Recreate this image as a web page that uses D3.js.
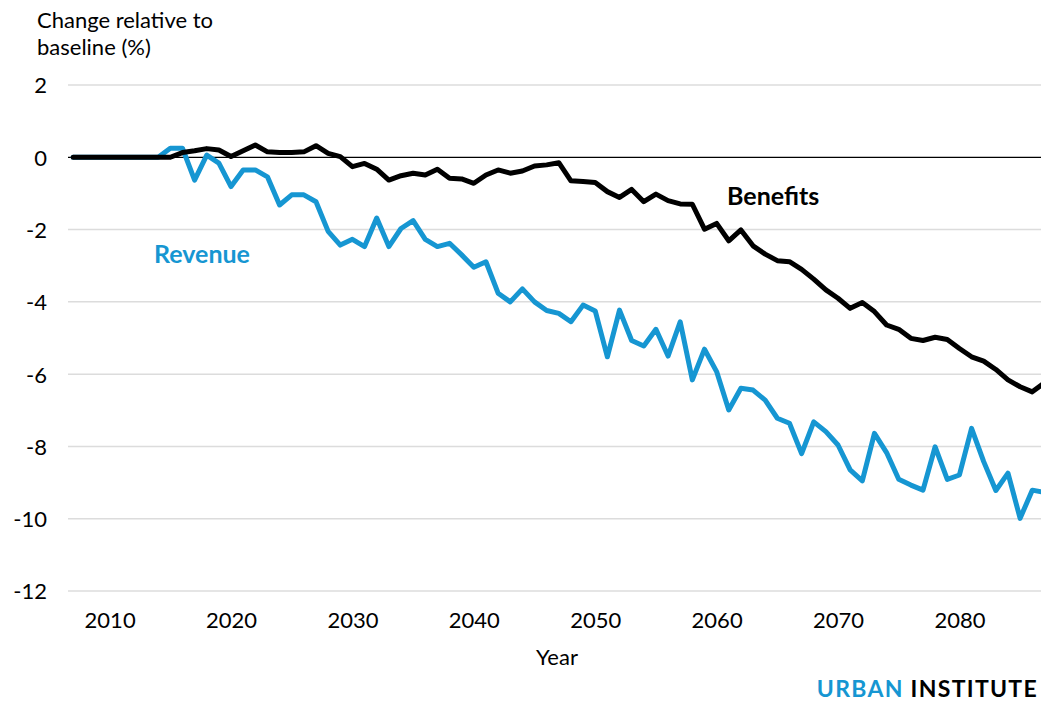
<!DOCTYPE html>
<html>
<head>
<meta charset="utf-8">
<script src="https://cdn.jsdelivr.net/npm/d3@7"></script>
<style>
  body { margin: 0; background: #fff; }
  svg { display: block; font-family: Lato, "Open Sans", sans-serif; }
</style>
</head>
<body>
<div id="chart"></div>
<script>
// Data
var years = d3.range(2007, 2088);
var revenue = [
  0, 0, 0, 0, 0, 0, 0, 0, 0.25, 0.25,           // 2007-2016
  -0.63, 0.06, -0.16, -0.81, -0.35, -0.35, -0.54, -1.32, -1.04, -1.04, // 2017-2026
  -1.23, -2.05, -2.43, -2.27, -2.47, -1.68, -2.47, -1.97, -1.75, -2.27, // 2027-2036
  -2.47, -2.38, -2.70, -3.04, -2.89, -3.76, -4.0, -3.64, -4.0, -4.24,  // 2037-2046
  -4.32, -4.55, -4.09, -4.25, -5.52, -4.23, -5.07, -5.22, -4.76, -5.5, // 2047-2056
  -4.55, -6.16, -5.31, -5.93, -6.99, -6.39, -6.44, -6.72, -7.22, -7.36, // 2057-2066
  -8.2, -7.32, -7.59, -7.96, -8.65, -8.95, -7.64, -8.17, -8.91, -9.07, // 2067-2076
  -9.21, -8.01, -8.91, -8.79, -7.5, -8.42, -9.22, -8.74, -9.99, -9.21, // 2077-2086
  -9.27                                                              // 2087
];
var benefits = [
  0, 0, 0, 0, 0, 0, 0, 0, 0, 0.13,              // 2007-2016
  0.18, 0.24, 0.2, 0.02, 0.18, 0.34, 0.15, 0.13, 0.13, 0.15,         // 2017-2026
  0.32, 0.11, 0.02, -0.26, -0.17, -0.33, -0.63, -0.51, -0.44, -0.49, // 2027-2036
  -0.33, -0.58, -0.6, -0.72, -0.49, -0.35, -0.44, -0.38, -0.24, -0.21, // 2037-2046
  -0.15, -0.65, -0.67, -0.7, -0.95, -1.11, -0.89, -1.23, -1.02, -1.2, // 2047-2056
  -1.29, -1.3, -1.99, -1.83, -2.31, -2.01, -2.45, -2.68, -2.86, -2.89, // 2057-2066
  -3.1, -3.37, -3.67, -3.9, -4.18, -4.02, -4.27, -4.64, -4.76, -5.01, // 2067-2076
  -5.07, -4.98, -5.04, -5.29, -5.52, -5.64, -5.87, -6.16, -6.35, -6.49, // 2077-2086
  -6.24                                                              // 2087
];
var yTicks = [2, 0, -2, -4, -6, -8, -10, -12];
var xTicks = [2010, 2020, 2030, 2040, 2050, 2060, 2070, 2080];

var drawChart = function() {
    const width = 1041, height = 702;
    const blue = "#1696d2";
    const tickFont = 22;

    var svg = d3.select("#chart").append("svg")
        .attr("width", width)
        .attr("height", height);

    var x = d3.scaleLinear().domain([2007, 2087]).range([73.2, 1044.4]);
    var y = d3.scaleLinear().domain([2, -12]).range([85, 591]);

    // Title
    svg.append("text")
        .attr("x", 37).attr("y", 28)
        .attr("font-size", 22).attr("fill", "#000")
        .selectAll("tspan")
        .data(["Change relative to", "baseline (%)"])
        .join("tspan")
        .attr("x", 37)
        .attr("dy", function(d, i) { return i ? 27 : 0; })
        .text(function(d) { return d; });

    // Grid lines
    svg.append("g").selectAll("line")
        .data(yTicks.filter(function(d) { return d !== 0; }))
        .join("line")
        .attr("x1", 68).attr("x2", width)
        .attr("y1", function(d) { return y(d); })
        .attr("y2", function(d) { return y(d); })
        .attr("stroke", "#dcdcdc")
        .attr("stroke-width", 1.5);

    // Y axis labels (plain hyphen as in the original)
    var yAxis = svg.append("g")
        .attr("transform", "translate(47,0)")
        .call(d3.axisLeft(y).tickValues(yTicks).tickSize(0).tickPadding(0)
            .tickFormat(function(d) { return String(d); }));
    yAxis.select(".domain").remove();
    yAxis.selectAll("text")
        .attr("font-family", "Lato, sans-serif")
        .attr("font-size", tickFont)
        .attr("fill", "#000")
        .attr("dy", "0.36em");

    // X axis labels
    var xAxis = svg.append("g")
        .attr("transform", "translate(0,612)")
        .call(d3.axisBottom(x).tickValues(xTicks).tickSize(0).tickPadding(0)
            .tickFormat(function(d) { return String(d); }));
    xAxis.select(".domain").remove();
    xAxis.selectAll("text")
        .attr("font-family", "Lato, sans-serif")
        .attr("font-size", tickFont)
        .attr("fill", "#000");

    svg.append("text")
        .attr("x", 557).attr("y", 665)
        .attr("text-anchor", "middle")
        .attr("font-size", tickFont)
        .text("Year");

    // Zero line
    svg.append("line")
        .attr("x1", 68).attr("x2", width)
        .attr("y1", y(0)).attr("y2", y(0))
        .attr("stroke", "#000").attr("stroke-width", 1.2);

    var line = d3.line()
        .x(function(d, i) { return x(years[i]); })
        .y(function(d) { return y(d); });

    svg.append("path")
        .datum(revenue)
        .attr("d", line)
        .attr("fill", "none")
        .attr("stroke", blue)
        .attr("stroke-width", 5)
        .attr("stroke-linejoin", "round")
        .attr("stroke-linecap", "round");

    svg.append("path")
        .datum(benefits)
        .attr("d", line)
        .attr("fill", "none")
        .attr("stroke", "#000")
        .attr("stroke-width", 5)
        .attr("stroke-linejoin", "round")
        .attr("stroke-linecap", "round");

    // Series labels
    svg.append("text")
        .attr("x", 727).attr("y", 205)
        .attr("font-size", 25).attr("font-weight", "bold")
        .attr("fill", "#000")
        .text("Benefits");

    svg.append("text")
        .attr("x", 154).attr("y", 263)
        .attr("font-size", 25).attr("font-weight", "bold")
        .attr("fill", blue)
        .text("Revenue");

    // Branding
    var brand = svg.append("text")
        .attr("x", 1038).attr("y", 697)
        .attr("text-anchor", "end")
        .attr("font-size", 23).attr("font-weight", "bold")
        .attr("letter-spacing", 1.3);
    brand.append("tspan").attr("fill", blue).text("URBAN ");
    brand.append("tspan").attr("fill", "#000").text("INSTITUTE");
}

window.addEventListener("load", drawChart);
</script>
</body>
</html>
